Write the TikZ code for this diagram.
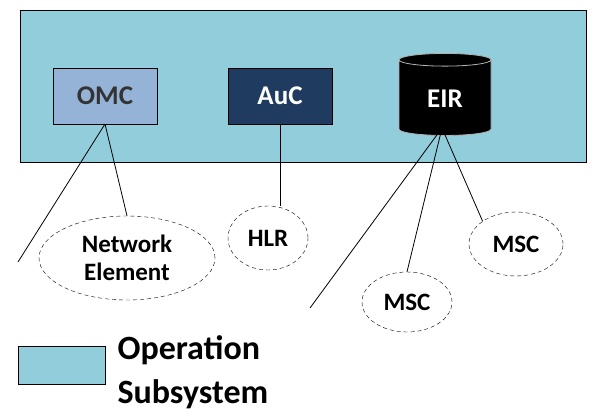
\documentclass[tikz,border=0pt]{standalone}
\usepackage{fontspec}
\setmainfont{Carlito}
\usetikzlibrary{shapes.geometric}
\definecolor{osscol}{HTML}{92CDDC}
\definecolor{omccol}{HTML}{95B3D7}
\definecolor{auccol}{HTML}{1F3B5F}
\tikzset
  {box/.style={draw=black, minimum width=104pt, minimum height=56pt, font=\fontsize{27}{29}\selectfont\bfseries},
   elem/.style={ellipse, draw=black, dash pattern=on 4pt off 3pt, font=\fontsize{25}{30}\selectfont\bfseries, align=center, inner sep=0pt}}
\begin{document}
\begin{tikzpicture}[x=1pt,y=-1pt]
 \useasboundingbox (0,0) rectangle (604,418);
 \fill[osscol,draw=black] (20,10) rectangle (586,162);

 \node[box,fill=omccol,text=black!80] (omc) at (105,96) {OMC};
 \node[box,fill=auccol,text=white] (auc) at (280,96) {AuC};
 \node[cylinder,shape border rotate=90,aspect=0.3,draw=gray!60,thick,fill=black,text=white,
       minimum width=92pt,minimum height=82pt,font=\fontsize{27}{29}\selectfont\bfseries] (eir) at (445,99) {EIR};

 \node[elem,minimum width=176pt,minimum height=84pt] (ne) at (127,258) {Network\\[-2pt]Element};
 \node[elem,minimum width=80pt,minimum height=64pt] (hlr) at (268,238) {HLR};
 \node[elem,minimum width=90pt,minimum height=60pt] (msca) at (407,302) {MSC};
 \node[elem,minimum width=94pt,minimum height=64pt] (mscb) at (516,244) {MSC};

 \coordinate (omcend) at (18,262);
 \coordinate (eirend) at (310,308);
 \coordinate (omcfoot) at (105,124);
 \coordinate (eirfoot) at (442,128);

 \draw[thick] (omcfoot) -- (omcend);
 \draw[thick] (omcfoot) -- (ne.north);
 \draw[thick] (auc.south) -- (280,206);
 \draw[thick] (eirfoot) -- (eirend);
 \draw[thick] (eirfoot) -- (msca.north);
 \draw[thick] (eirfoot) -- (mscb.north west);

 \node[draw=black,fill=osscol,minimum width=87pt,minimum height=38pt] (key) at (61.5,365) {};
 \node[anchor=west,font=\fontsize{34}{36}\selectfont\bfseries] (keya) at (114,350) {Operation};
 \node[anchor=west,font=\fontsize{34}{36}\selectfont\bfseries] (keyb) at (114,394) {Subsystem};
\end{tikzpicture}
\end{document}
